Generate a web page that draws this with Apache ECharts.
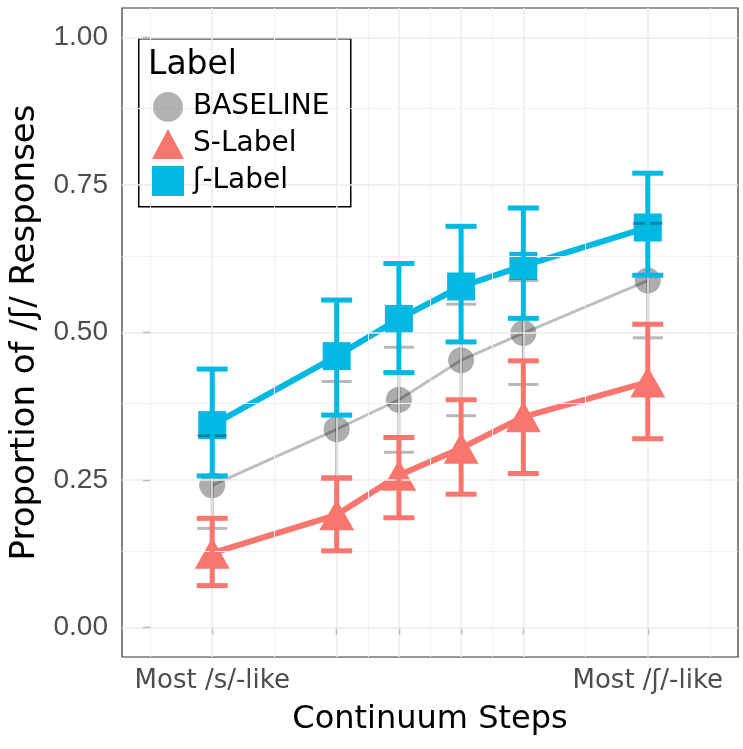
<!DOCTYPE html>
<html>
<head>
<meta charset="utf-8">
<script src="https://cdn.jsdelivr.net/npm/echarts@6/dist/echarts.min.js"></script>
<style>
  html, body { margin: 0; padding: 0; background: #fff; }
  #chart { width: 743px; height: 749px; }
</style>
</head>
<body>
<div id="chart"></div>
<script>
// data
var steps = [1, 3, 4, 5, 6, 8];
var xTickText = ['Most /s/-like', '', '', '', '', 'Most /ʃ/-like'];
var yTicks = [0, 0.25, 0.5, 0.75, 1];
var xMinor = [0, 2, 3.5, 4.5, 5.5, 7, 9];
var yMinor = [0.125, 0.375, 0.625, 0.875];

var baseline = [0.241, 0.336, 0.386, 0.453, 0.499, 0.588];
var baselineLo = [0.168, 0.256, 0.297, 0.359, 0.412, 0.491];
var baselineHi = [0.325, 0.417, 0.475, 0.548, 0.588, 0.685];

var sLabel = [0.126, 0.191, 0.258, 0.304, 0.357, 0.416];
var sLo = [0.071, 0.130, 0.186, 0.226, 0.261, 0.320];
var sHi = [0.185, 0.253, 0.322, 0.386, 0.452, 0.514];

var shLabel = [0.343, 0.460, 0.523, 0.578, 0.613, 0.678];
var shLo = [0.257, 0.360, 0.432, 0.484, 0.524, 0.597];
var shHi = [0.438, 0.555, 0.617, 0.680, 0.711, 0.770];

var GRAY = 'rgba(0,0,0,0.32)';
var RED = '#F8766D';
var BLUE = '#00B9E3';
var FONT = '"Liberation Sans", Arial, sans-serif';
var WIDE = '"DejaVu Sans", sans-serif';

function pairs(y) {
    return steps.map(function (s, i) { return [s, y[i]]; });
}
function bars(lo, hi) {
    return steps.map(function (s, i) { return [s, lo[i], hi[i]]; });
}

// 误差线
function errorBar(name, data, color, width, capW, z) {
    return {
        name: name,
        type: 'custom',
        z: z,
        silent: true,
        data: data,
        encode: { x: 0, y: [1, 2] },
        renderItem: function (params, api) {
            var x = api.value(0);
            var lo = api.coord([x, api.value(1)]);
            var hi = api.coord([x, api.value(2)]);
            var h = capW / 2;
            var st = { stroke: color, lineWidth: width };
            return {
                type: 'group',
                children: [
                    { type: 'line', shape: { x1: lo[0], y1: lo[1], x2: hi[0], y2: hi[1] }, style: st },
                    { type: 'line', shape: { x1: hi[0] - h, y1: hi[1], x2: hi[0] + h, y2: hi[1] }, style: st },
                    { type: 'line', shape: { x1: lo[0] - h, y1: lo[1], x2: lo[0] + h, y2: lo[1] }, style: st }
                ]
            };
        }
    };
}

// 网格线
var gridLines = [];
steps.forEach(function (v) { gridLines.push({ xAxis: v, lineStyle: { color: '#ebebeb', width: 1.5, type: 'solid' } }); });
xMinor.forEach(function (v) { gridLines.push({ xAxis: v, lineStyle: { color: '#f2f2f2', width: 1, type: 'solid' } }); });
yTicks.forEach(function (v) { gridLines.push({ yAxis: v, lineStyle: { color: '#ebebeb', width: 1.5, type: 'solid' } }); });
yMinor.forEach(function (v) { gridLines.push({ yAxis: v, lineStyle: { color: '#f2f2f2', width: 1, type: 'solid' } }); });

var myChart = echarts.init(document.getElementById('chart'));
var option = {
    animation: false,
    textStyle: { fontFamily: FONT },
    grid: {
        left: 122, right: 5, top: 8, bottom: 92,
        show: true,
        backgroundColor: '#fff',
        borderColor: '#333',
        borderWidth: 1.2
    },
    title: {
        text: 'Label',
        left: 148, top: 49,
        padding: 0,
        textStyle: { fontFamily: WIDE, fontSize: 33, fontWeight: 'normal', color: '#000' }
    },
    graphic: [{
        type: 'rect',
        left: 138, top: 38,
        shape: { width: 212, height: 168 },
        style: { fill: '#fff', stroke: '#000', lineWidth: 1.5 },
        z: 5
    }],
    legend: {
        orient: 'vertical',
        left: 152, top: 92,
        padding: 0,
        itemWidth: 32, itemHeight: 30,
        itemGap: 7,
        z: 10,
        selectedMode: false,
        textStyle: { fontFamily: WIDE, fontSize: 28, color: '#000', padding: [0, 0, 0, 4] },
        data: [
            { name: 'BASELINE', icon: 'circle', itemStyle: { color: 'rgba(0,0,0,0.3)' } },
            { name: 'S-Label', icon: 'triangle', itemStyle: { color: RED } },
            { name: 'ʃ-Label', icon: 'rect', itemStyle: { color: BLUE } }
        ]
    },
    xAxis: {
        type: 'value',
        min: -0.45, max: 9.45,
        name: 'Continuum Steps',
        nameLocation: 'middle',
        nameGap: 47,
        nameTextStyle: { fontFamily: WIDE, fontSize: 32, color: '#000' },
        axisLine: { show: false },
        splitLine: { show: false },
        axisTick: { show: true, customValues: steps, length: 7, lineStyle: { color: '#333', width: 1.2 } },
        axisLabel: {
            customValues: steps,
            fontFamily: WIDE, fontSize: 26, color: '#4d4d4d', margin: 11,
            formatter: function (v) { return xTickText[steps.indexOf(v)] || ''; }
        }
    },
    yAxis: {
        type: 'value',
        min: -0.05, max: 1.05,
        name: 'Proportion of /ʃ/ Responses',
        nameLocation: 'middle',
        nameGap: 73,
        nameTextStyle: { fontFamily: WIDE, fontSize: 34, color: '#000' },
        axisLine: { show: false },
        splitLine: { show: false },
        axisTick: { show: true, customValues: yTicks, length: 7, lineStyle: { color: '#333', width: 1.2 } },
        axisLabel: {
            customValues: yTicks,
            fontSize: 28, color: '#4d4d4d', margin: 14,
            formatter: function (v) { return v.toFixed(2); }
        }
    },
    series: [
        {
            name: 'grid',
            type: 'line',
            data: [],
            z: 0,
            markLine: { silent: true, symbol: 'none', label: { show: false }, data: gridLines }
        },
        {
            name: 'ʃ-Label',
            type: 'line',
            data: pairs(shLabel),
            z: 3,
            symbol: 'rect',
            symbolSize: 28,
            lineStyle: { color: BLUE, width: 6 },
            itemStyle: { color: BLUE }
        },
        {
            name: 'S-Label',
            type: 'line',
            data: pairs(sLabel),
            z: 3,
            symbol: 'triangle',
            symbolSize: [35, 31],
            lineStyle: { color: RED, width: 6 },
            itemStyle: { color: RED }
        },
        {
            name: 'BASELINE',
            type: 'line',
            data: pairs(baseline),
            z: 4,
            symbol: 'circle',
            symbolSize: 26,
            lineStyle: { color: 'rgba(0,0,0,0.25)', width: 3 },
            itemStyle: { color: GRAY }
        },
        errorBar('baseline-err', bars(baselineLo, baselineHi), 'rgba(0,0,0,0.28)', 3, 30, 4),
        errorBar('s-err', bars(sLo, sHi), RED, 5, 31, 5),
        errorBar('sh-err', bars(shLo, shHi), BLUE, 5, 31, 5)
    ]
};
myChart.setOption(option);
</script>
</body>
</html>
